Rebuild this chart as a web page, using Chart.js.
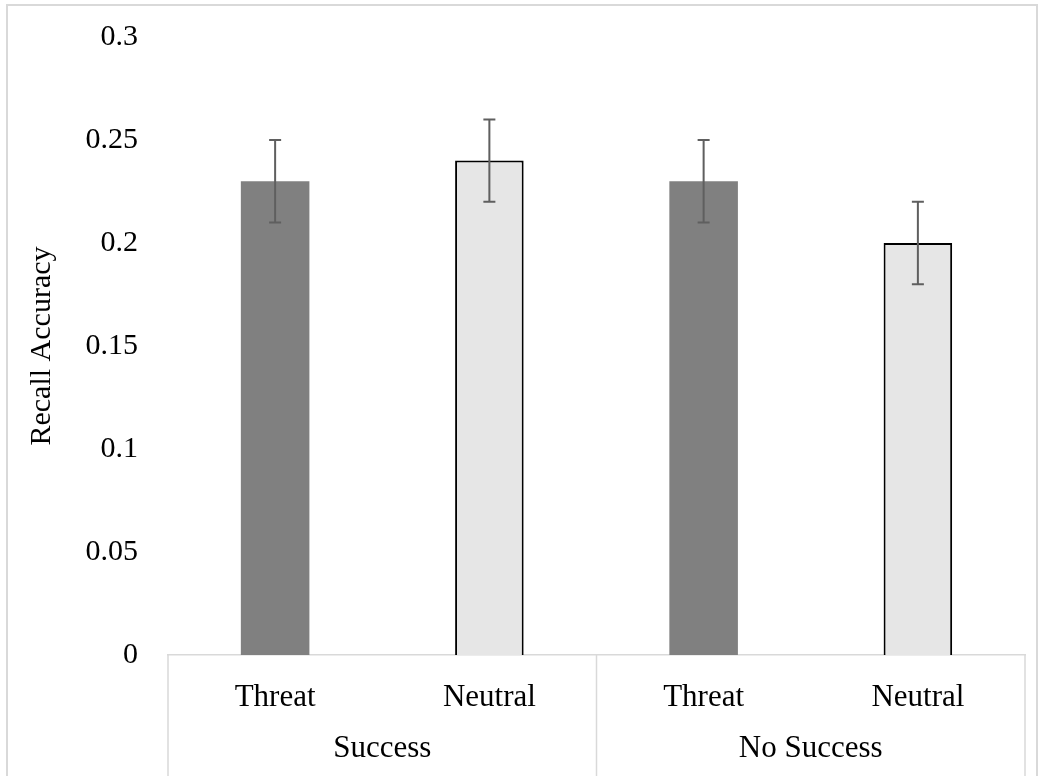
<!DOCTYPE html>
<html lang="en">
<head>
  <meta charset="UTF-8">
  <title>Recall Accuracy</title>
  <script src="https://cdn.jsdelivr.net/npm/chart.js"></script>
  <style>
    html, body { margin: 0; padding: 0; background: #fff; }
    #wrap { width: 1045px; height: 776px; position: relative; }
  </style>
</head>
<body>
  <div id="wrap"><canvas id="recallChart"></canvas></div>

  <script>
    // chart data
    const categories = ['Threat', 'Neutral', 'Threat', 'Neutral'];
    const groups = ['Success', 'No Success'];
    const accuracy = [0.23, 0.24, 0.23, 0.20];
    const errors = [0.02, 0.02, 0.02, 0.02];
    const yTickLabels = ['0', '0.05', '0.1', '0.15', '0.2', '0.25', '0.3'];

    const FONT = '"Liberation Serif", "Times New Roman", serif';
    const lineGray = '#d9d9d9';

    // frame, group labels and separators under the x axis
    const groupAxis = {
      id: 'groupAxis',
      beforeDraw(chart) {
        const c = chart.ctx;
        c.save();
        c.strokeStyle = lineGray;
        c.lineWidth = 2;
        c.strokeRect(7, 5, 1030, 800);
        c.restore();
      },
      afterDraw(chart) {
        const c = chart.ctx;
        const x = chart.scales.x;
        const area = chart.chartArea;
        const half = (x.getPixelForValue(1) - x.getPixelForValue(0)) / 2;
        const per = categories.length / groups.length;
        c.save();
        c.strokeStyle = lineGray;
        c.lineWidth = 1.5;
        for (let g = 0; g <= groups.length; g++) {
          const px = g * per >= categories.length
            ? x.getPixelForValue(categories.length - 1) + half
            : x.getPixelForValue(g * per) - half;
          c.beginPath();
          c.moveTo(px, area.bottom);
          c.lineTo(px, chart.height);
          c.stroke();
        }
        c.fillStyle = '#000';
        c.font = '31px ' + FONT;
        c.textAlign = 'center';
        c.textBaseline = 'middle';
        groups.forEach((name, g) => {
          const a = x.getPixelForValue(g * per) - half;
          const b = x.getPixelForValue(g * per + per - 1) + half;
          c.fillText(name, (a + b) / 2, 749);
        });
        c.restore();
      }
    };

    // error bars
    const errorBars = {
      id: 'errorBars',
      afterDatasetsDraw(chart) {
        const c = chart.ctx;
        const x = chart.scales.x;
        const y = chart.scales.y;
        c.save();
        c.strokeStyle = '#5f5f5f';
        c.lineWidth = 2;
        accuracy.forEach((v, i) => {
          const px = x.getPixelForValue(i);
          const top = y.getPixelForValue(v + errors[i]);
          const bot = y.getPixelForValue(v - errors[i]);
          c.beginPath();
          c.moveTo(px, top); c.lineTo(px, bot);
          c.moveTo(px - 6, top); c.lineTo(px + 6, top);
          c.moveTo(px - 6, bot); c.lineTo(px + 6, bot);
          c.stroke();
        });
        c.restore();
      }
    };

    const ctx = document.getElementById('recallChart').getContext('2d');
    new Chart(ctx, {
      type: 'bar',
      data: {
        labels: categories,
        datasets: [{
          data: accuracy,
          backgroundColor: ['#808080', '#e6e6e6', '#808080', '#e6e6e6'],
          borderColor: '#000',
          borderWidth: [0, 2, 0, 2],
          borderSkipped: 'bottom',
          categoryPercentage: 1.0,
          barPercentage: 0.32
        }]
      },
      options: {
        responsive: true,
        maintainAspectRatio: false,
        animation: false,
        layout: { padding: { left: 20, right: 20, top: 37, bottom: 0 } },
        plugins: {
          legend: { display: false },
          tooltip: { enabled: false }
        },
        scales: {
          x: {
            grid: { display: false, drawTicks: false },
            border: { display: true, color: lineGray, width: 1.5 },
            ticks: { color: '#000', font: { family: FONT, size: 31 }, padding: 24 },
            afterFit(scale) { scale.height = 121; }
          },
          y: {
            min: 0,
            max: 0.3,
            grid: { display: false, drawTicks: true, tickLength: 27 },
            border: { display: false },
            ticks: {
              stepSize: 0.05,
              color: '#000',
              font: { family: FONT, size: 30 },
              padding: 3,
              callback: (v, i) => yTickLabels[i]
            },
            title: {
              display: true,
              text: 'Recall Accuracy',
              color: '#000',
              font: { family: FONT, size: 30 },
              padding: 4
            },
            afterFit(scale) { scale.width = 148; }
          }
        }
      },
      plugins: [groupAxis, errorBars]
    });
  </script>
</body>
</html>
